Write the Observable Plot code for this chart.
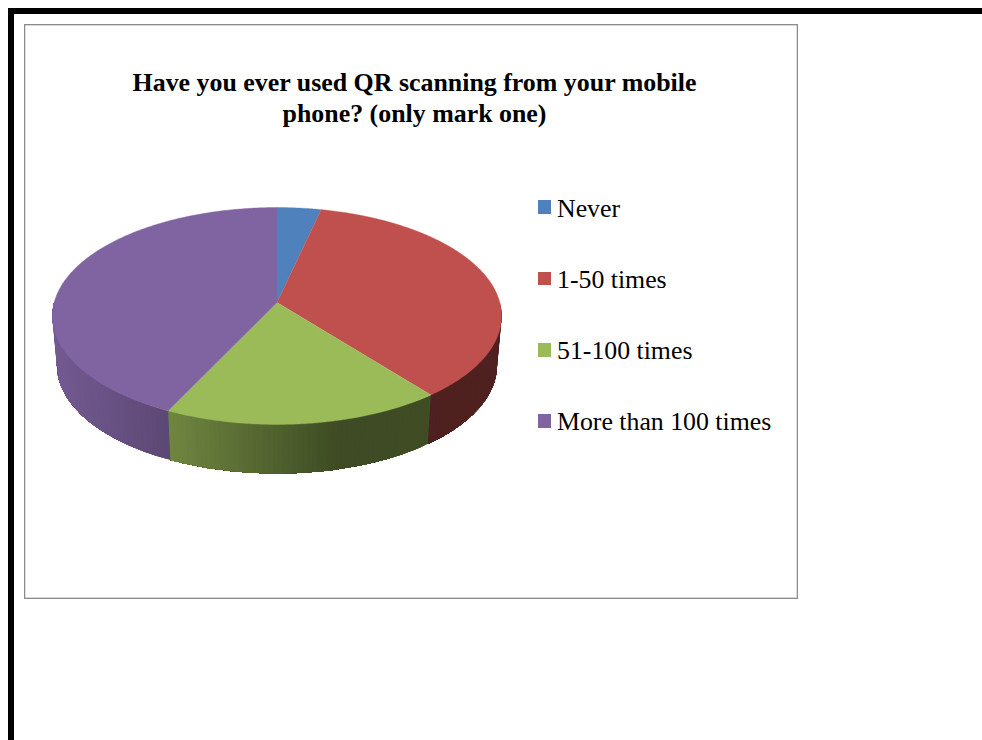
<!DOCTYPE html>
<html>
<head>
<meta charset="utf-8">
<script src="https://cdn.jsdelivr.net/npm/d3@7"></script>
<script src="https://cdn.jsdelivr.net/npm/@observablehq/plot@0.6"></script>
<style>
  html, body { margin: 0; padding: 0; background: #fff; overflow: hidden; }
  body { position: relative; width: 982px; height: 740px; font-family: "Liberation Serif", serif; color: #000; }
  #frame { position: absolute; left: 8px; top: 8px; right: 0; bottom: 0; border-top: 6px solid #000; border-left: 6px solid #000; }
  #box { position: absolute; left: 24px; top: 24px; width: 772px; height: 573px; border: 1px solid #8c8c8c; box-shadow: inset 0 0 0 0.4px #b0b0b0; }
  #title { position: absolute; left: 100px; width: 629px; top: 67px; text-align: center; font-weight: bold; font-size: 25.9px; line-height: 31px; }
  #chart { position: absolute; left: 0; top: 0; }
  .swatch { position: absolute; left: 538px; width: 13px; height: 13.5px; }
  .entry { position: absolute; left: 557px; font-size: 25.8px; line-height: 28px; white-space: nowrap; }
</style>
</head>
<body>
<div id="frame"></div>
<div id="box"></div>
<div id="chart"></div>
<div id="title">Have you ever used QR scanning from your mobile<br>phone? (only mark one)</div>
<div id="legend"></div>
<script>
// Survey responses, counted per answer
const categories = ["Never", "1-50 times", "51-100 times", "More than 100 times"];
const counts = [1, 10, 5, 12];
const colors = ["#4f81bd", "#c0504d", "#9bbb59", "#8064a2"];

// Tilted-disc projection of the pie
const perspective = 0.1244;   // how much nearer points grow
const wallDepth = 0.459;      // wall height in y units
const baseShrink = 0.98;      // the lower rim is a little narrower
// Wall lighting across the disc, left to right
const lightAt = d3.scaleLinear([-1, -0.47, 0.28, 1], [0.9, 0.71, 0.4, 0.41]).clamp(true);

const project = (theta, radius = 1) => {
  const u = radius * Math.sin(theta), v = -radius * Math.cos(theta);
  const w = 1 - perspective * v;
  return [u / w, v / w];
};

const total = d3.sum(counts);
const ends = d3.cumsum(counts).map(c => (c / total) * 2 * Math.PI);
const slices = categories.map((name, i) => ({
  name, color: colors[i], start: i ? ends[i - 1] : 0, end: ends[i]
}));

// Top face: one closed polygon per slice
const face = slices.flatMap(s => {
  const n = Math.max(2, Math.ceil((s.end - s.start) / 0.01));
  const rim = d3.range(n + 1).map(j => project(s.start + (s.end - s.start) * j / n));
  return [[0, 0], ...rim].map(([x, y]) => ({ x, y, slice: s.name, fill: s.color }));
});

// Side wall: shaded strips along the front half of the rim; each strip
// runs on to the slice's far end and the next one paints over it
const shade = (hex, k) => {
  const c = d3.rgb(hex);
  return d3.rgb(c.r * k, c.g * k, c.b * k).formatHex();
};
const wall = slices.flatMap(s => {
  const from = Math.max(s.start, Math.PI / 2), to = Math.min(s.end, 3 * Math.PI / 2);
  if (to <= from) return [];
  const n = Math.ceil((to - from) / 0.02);
  return d3.range(n).flatMap(j => {
    const near = from + (to - from) * j / n;
    const next = from + (to - from) * (j + 1) / n;
    const fill = shade(s.color, lightAt((project(near)[0] + project(next)[0]) / 2));
    const id = `${s.name}-${j}`;
    const arc = d3.range(j, n + 1).map(k => project(from + (to - from) * k / n));
    return [
      ...arc,
      ...arc.slice().reverse().map(([x, y]) => [x * baseShrink, y + wallDepth])
    ].map(([x, y]) => ({ x, y, id, fill }));
  });
});

const plot = Plot.plot({
  width: 982,
  height: 740,
  margin: 0,
  x: { domain: [-1, 1], range: [53.7, 499.3], axis: null },
  y: { domain: [-1, 1], range: [195.2, 408.8], axis: null },
  color: { type: "identity" },
  marks: [
    Plot.line(wall, { x: "x", y: "y", z: "id", fill: "fill", stroke: null, strokeWidth: 0 }),
    Plot.line(face, { x: "x", y: "y", z: "slice", fill: "fill", stroke: "fill", strokeWidth: 0.4 })
  ]
});
document.getElementById("chart").append(plot);

// Legend: a square and a label per answer
const legend = document.getElementById("legend");
const swatchTops = [200, 271.5, 343, 414];
const labelTops = [194.5, 265.5, 336.5, 407.5];
categories.forEach((name, i) => {
  const sw = document.createElement("div");
  sw.className = "swatch";
  sw.style.top = swatchTops[i] + "px";
  sw.style.background = colors[i];
  const label = document.createElement("div");
  label.className = "entry";
  label.style.top = labelTops[i] + "px";
  label.textContent = name;
  legend.append(sw, label);
});
</script>
</body>
</html>
